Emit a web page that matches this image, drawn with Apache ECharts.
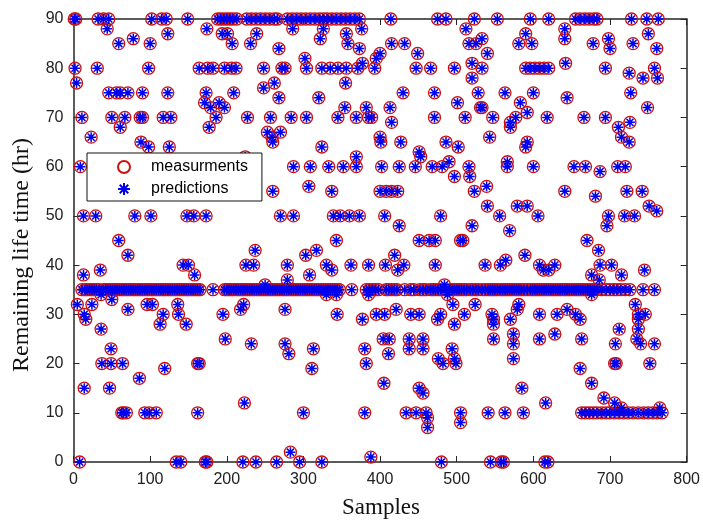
<!DOCTYPE html>
<html>
<head>
<meta charset="utf-8">
<script src="https://cdn.jsdelivr.net/npm/echarts@6/dist/echarts.min.js"></script>
<style>
html,body{margin:0;padding:0;background:#fff;}
#c{width:703px;height:521px;}
</style>
</head>
<body>
<div id="c"></div>
<script>
// Axis ticks
const xTicks = [0, 100, 200, 300, 400, 500, 600, 700, 800];
const yTicks = [0, 10, 20, 30, 40, 50, 60, 70, 80, 90];
const legendNames = ['measurments', 'predictions'];
const xTitle = 'Samples';
const yTitle = 'Remaining life time (hr)';

// Sample numbers (x)
const sampleNo = [
1,3,2,4,5,8,9,11,11,13,13,14,14,15,16,18,21,23,24,24,27,29,30,31,32,33,35,36,36,37,39,39,42,44,45,46,46,47,48,49,49,50,50,
51,54,56,57,59,59,60,61,61,63,63,64,65,66,67,69,69,71,71,71,72,75,78,78,80,81,84,86,87,87,88,90,90,90,93,93,96,96,98,98,99,99,
100,101,102,102,103,105,108,108,111,113,114,115,117,117,117,119,120,121,123,123,123,125,126,127,129,132,134,135,136,137,138,140,141,143,144,147,147,148,149,150,150,
153,156,157,158,159,162,162,162,164,164,165,171,172,173,173,174,174,175,177,179,182,182,186,188,190,192,194,195,196,197,197,197,198,200,200,201,203,
204,206,206,207,208,209,209,212,212,213,215,218,218,221,221,222,223,224,224,225,226,227,227,230,231,232,232,233,235,236,237,238,238,239,239,242,244,245,248,248,248,250,250,
251,253,254,256,257,257,259,260,260,260,262,262,263,265,266,266,268,268,269,270,270,272,272,275,276,276,276,278,279,279,279,281,281,283,284,284,285,286,287,287,287,290,291,293,295,296,297,299,300,302,302,
303,303,304,304,305,307,308,308,309,309,311,311,313,314,315,317,317,320,320,321,322,323,324,324,324,326,326,326,329,330,330,331,332,333,335,335,337,337,337,338,339,341,343,343,343,344,344,345,345,347,348,349,
352,354,355,355,356,356,358,360,361,362,363,367,369,369,369,371,373,373,373,376,377,377,380,380,382,382,382,385,385,385,386,388,389,390,393,394,395,395,398,400,400,401,400,
402,404,405,406,406,407,408,408,411,411,413,412,414,415,415,415,415,419,419,421,422,423,423,425,425,427,430,431,432,432,434,438,438,440,440,444,446,447,447,449,451,451,451,451,
452,453,456,456,456,456,460,460,462,462,464,466,466,468,469,471,471,472,472,472,475,475,476,476,479,479,479,480,481,482,484,486,486,485,488,490,491,494,494,495,497,497,497,497,497,499,
500,501,502,503,505,505,505,506,508,510,510,511,512,513,516,516,517,518,520,520,520,521,523,523,524,525,525,528,528,531,533,533,533,533,537,537,539,540,540,541,541,543,544,544,546,547,547,548,548,548,550,
553,553,556,557,557,558,560,561,563,564,563,563,566,566,566,569,569,570,570,570,572,574,574,574,575,577,579,579,578,581,581,581,583,584,585,587,588,589,590,590,590,592,592,592,592,596,596,596,598,600,600,599,602,602,
605,606,608,608,608,608,608,611,613,614,614,615,616,617,618,619,620,620,620,620,623,626,628,628,629,631,632,635,638,641,641,641,642,641,644,644,644,647,650,
653,653,655,655,656,659,661,661,661,662,663,663,665,666,667,668,668,668,670,671,673,673,674,676,676,676,677,678,678,679,680,681,683,683,683,685,686,687,687,689,689,692,694,694,695,695,696,698,698,700,700,700,
702,705,706,706,706,707,708,709,710,711,712,712,714,715,715,715,718,719,720,720,722,724,725,725,726,726,727,728,730,730,732,733,735,737,737,737,737,740,742,743,743,744,745,746,748,749,750,750,751,752,756,758,758,758,761,761,762,762,763,765,768
];

// Measured remaining life time (hr)
const measured = [
90,90,80,77,32,0,60,70,35,50,38,15,30,35,29,35,35,66,32,35,35,50,35,80,90,35,39,34,27,20,90,35,35,88,35,90,75,15,35,23,20,33,70,
35,35,75,35,85,45,35,68,75,10,35,20,10,35,70,10,35,75,42,31,35,35,86,35,50,35,35,17,70,35,65,75,70,35,10,35,32,35,80,64,10,35,
85,50,90,35,32,35,10,35,35,28,35,90,70,30,35,19,35,90,87,75,35,64,35,70,35,35,0,35,32,30,35,0,35,40,35,28,35,50,90,40,35,
35,35,50,38,35,20,10,35,20,80,35,73,0,50,75,0,88,80,68,72,35,80,70,90,73,90,87,30,90,80,72,35,25,90,35,87,35,
90,80,35,85,90,75,35,35,80,90,35,31,35,0,35,32,12,62,35,40,90,70,35,35,85,90,24,35,40,35,43,90,0,87,35,35,90,35,80,76,35,90,36,
35,67,35,90,70,35,66,65,55,35,90,77,35,0,90,35,84,74,35,67,50,80,35,35,80,31,24,35,90,40,37,22,35,2,35,70,90,88,60,50,35,35,90,35,0,35,90,35,10,82,35,
90,42,80,70,35,56,38,35,90,60,19,35,23,35,90,43,35,74,35,90,86,35,80,64,0,88,35,90,35,40,34,90,35,60,80,35,90,55,39,35,50,35,90,45,34,35,30,80,70,35,50,90,
60,72,77,90,80,87,85,50,90,40,35,90,70,62,60,80,90,84,50,88,81,29,23,10,72,20,35,70,40,34,35,1,70,35,80,35,82,30,35,83,66,65,55,
60,25,16,50,30,40,35,55,22,35,72,25,90,85,69,55,35,42,35,31,35,39,55,48,60,65,75,40,85,35,10,25,23,30,35,35,60,80,10,83,63,45,30,15,
35,62,25,23,14,35,10,35,9,7,45,80,35,60,35,75,70,45,40,35,90,29,21,35,50,30,35,0,60,20,36,90,65,35,34,61,35,23,35,32,80,28,21,58,35,20,
35,73,64,35,10,8,45,35,45,30,35,70,88,35,85,60,58,35,48,78,81,35,90,55,32,85,35,75,35,72,72,80,86,35,40,35,56,52,83,10,35,66,0,35,30,70,35,29,28,25,35,
90,35,50,40,35,0,35,0,75,41,10,35,61,60,35,47,35,69,68,29,35,26,24,21,35,70,52,31,35,32,85,35,73,35,15,10,35,42,87,64,80,71,65,52,35,80,90,35,85,75,60,35,80,35,
35,50,80,40,30,25,35,35,39,80,35,0,12,35,70,0,90,39,80,35,35,35,40,26,35,30,35,35,35,88,86,55,81,35,74,31,35,35,35,
35,60,30,90,35,35,90,29,19,35,25,10,35,70,90,60,10,35,45,35,90,10,35,38,34,16,35,85,10,90,35,54,90,10,35,43,37,59,40,35,10,13,80,70,10,35,48,86,50,84,10,35,
40,35,12,20,10,24,20,35,60,68,27,10,35,66,38,11,10,50,60,35,55,10,79,65,69,35,75,90,85,10,50,32,25,30,29,27,10,24,55,78,35,10,39,30,90,72,87,10,52,20,10,80,35,24,84,51,78,10,90,11,10
];

// Predicted remaining life time (hr)
const predicted = [
90,90,80,77,32,0,60,70,35,50,38,15,30,35,29,35,35,66,32,35,35,50,35,80,90,35,39,34,27,20,90,35,35,88,35,90,75,15,35,23,20,33,70,
35,35,75,35,85,45,35,68,75,10,35,20,10,35,70,10,35,75,42,31,35,35,86,35,50,35,35,17,70,35,65,75,70,35,10,35,32,35,80,64,10,35,
85,50,90,35,32,35,10,35,35,28,35,90,70,30,35,19,35,90,87,75,35,64,35,70,35,35,0,35,32,30,35,0,35,40,35,28,35,50,90,40,35,
35,35,50,38,35,20,10,35,20,80,35,73,0,50,75,0,88,80,68,72,35,80,70,90,73,90,87,30,90,80,72,35,25,90,35,87,35,
90,80,35,85,90,75,35,35,80,90,35,31,35,0,35,32,12,62,35,40,90,70,35,35,85,90,24,35,40,35,43,90,0,87,35,35,90,35,80,76,35,90,36,
35,67,35,90,70,35,66,65,55,35,90,77,35,0,90,35,84,74,35,67,50,80,35,35,80,31,24,35,90,40,37,22,35,2,35,70,90,88,60,50,35,35,90,35,0,35,90,35,10,82,35,
90,42,80,70,35,56,38,35,90,60,19,35,23,35,90,43,35,74,35,90,86,35,80,64,0,88,35,90,35,40,34,90,35,60,80,35,90,55,39,35,50,35,90,45,34,35,30,80,70,35,50,90,
60,72,77,90,80,87,85,50,90,40,35,90,70,62,60,80,90,84,50,88,81,29,23,10,72,20,35,70,40,34,35,1,70,35,80,35,82,30,35,83,66,65,55,
60,25,16,50,30,40,35,55,22,35,72,25,90,85,69,55,35,42,35,31,35,39,55,48,60,65,75,40,85,35,10,25,23,30,35,35,60,80,10,83,63,45,30,15,
35,62,25,23,14,35,10,35,9,7,45,80,35,60,35,75,70,45,40,35,90,29,21,35,50,30,35,0,60,20,36,90,65,35,34,61,35,23,35,32,80,28,21,58,35,20,
35,73,64,35,10,8,45,35,45,30,35,70,88,35,85,60,58,35,48,78,81,35,90,55,32,85,35,75,35,72,72,80,86,35,40,35,56,52,83,10,35,66,0,35,30,70,35,29,28,25,35,
90,35,50,40,35,0,35,0,75,41,10,35,61,60,35,47,35,69,68,29,35,26,24,21,35,70,52,31,35,32,85,35,73,35,15,10,35,42,87,64,80,71,65,52,35,80,90,35,85,75,60,35,80,35,
35,50,80,40,30,25,35,35,39,80,35,0,12,35,70,0,90,39,80,35,35,35,40,26,35,30,35,35,35,88,86,55,81,35,74,31,35,35,35,
35,60,30,90,35,35,90,29,19,35,25,10,35,70,90,60,10,35,45,35,90,10,35,38,34,16,35,85,10,90,35,54,90,10,35,43,37,59,40,35,10,13,80,70,10,35,48,86,50,84,10,35,
40,35,12,20,10,24,20,35,60,68,27,10,35,66,38,11,10,50,60,35,55,10,79,65,69,35,75,90,85,10,50,32,25,30,29,27,10,24,55,78,35,10,39,30,90,72,87,10,52,20,10,80,35,24,84,51,78,10,90,11,10
];

const measData = measured.map((v, i) => [sampleNo[i], v]);
const predData = predicted.map((v, i) => [sampleNo[i], v]);

const axisColor = '#262626';
const asterisk = 'path://M5,0L5,10M0,5L10,5M1.46,1.46L8.54,8.54M1.46,8.54L8.54,1.46';
const serif = '"Liberation Serif", "Times New Roman", serif';
const sans = '"Liberation Sans", Arial, sans-serif';

function xAxisBase(pos, showLabel) {
  return {
    type: 'value', position: pos,
    min: xTicks[0], max: xTicks[xTicks.length - 1], interval: 100,
    axisLine: { show: true, onZero: false, lineStyle: { color: axisColor, width: 1.5 } },
    axisTick: { show: true, inside: true, length: 6, lineStyle: { color: axisColor, width: 1 } },
    axisLabel: { show: showLabel, color: '#222', fontSize: 16, fontFamily: sans, margin: 10 },
    splitLine: { show: false }
  };
}
function yAxisBase(pos, showLabel) {
  return {
    type: 'value', position: pos,
    min: yTicks[0], max: yTicks[yTicks.length - 1], interval: 10,
    axisLine: { show: true, onZero: false, lineStyle: { color: axisColor, width: 1.5 } },
    axisTick: { show: true, inside: true, length: 6, lineStyle: { color: axisColor, width: 1 } },
    axisLabel: { show: showLabel, color: '#222', fontSize: 16, fontFamily: sans, margin: 10 },
    splitLine: { show: false }
  };
}

const chart = echarts.init(document.getElementById('c'));
chart.setOption({
  animation: false,
  backgroundColor: '#fff',
  grid: { left: 73.5, right: 13, top: 19, bottom: 59 },
  xAxis: [xAxisBase('bottom', true), xAxisBase('top', false)],
  yAxis: [yAxisBase('left', true), yAxisBase('right', false)],
  graphic: [
    { type: 'text', position: [381, 508], style: { text: xTitle, font: '23px ' + serif, fill: '#111', textAlign: 'center', textVerticalAlign: 'middle' } },
    { type: 'text', rotation: Math.PI / 2, position: [22, 255], style: { text: yTitle, font: '24px ' + serif, fill: '#111', textAlign: 'center', textVerticalAlign: 'middle' } }
  ],
  legend: {
    data: legendNames,
    orient: 'vertical',
    left: 87, top: 153,
    padding: [6, 14, 4, 30],
    itemGap: 6,
    itemWidth: 12, itemHeight: 12,
    backgroundColor: '#fff',
    borderColor: '#111', borderWidth: 1,
    textStyle: { fontSize: 16, fontFamily: sans, color: '#000', padding: [0, 0, 0, 16], lineHeight: 16 },
    z: 10
  },
  series: [
    {
      name: legendNames[0], type: 'scatter', data: measData,
      symbol: 'circle', symbolSize: 12,
      itemStyle: { color: 'rgba(255,255,255,0)', borderColor: '#cc1010', borderWidth: 1.3, opacity: 1 },
      emphasis: { disabled: true }, z: 2
    },
    {
      name: legendNames[1], type: 'scatter', data: predData,
      symbol: asterisk, symbolSize: 10,
      itemStyle: { color: 'rgba(0,0,255,0)', borderColor: '#0000ee', borderWidth: 1.5, opacity: 1 },
      emphasis: { disabled: true }, z: 3
    }
  ]
});
</script>
</body>
</html>
